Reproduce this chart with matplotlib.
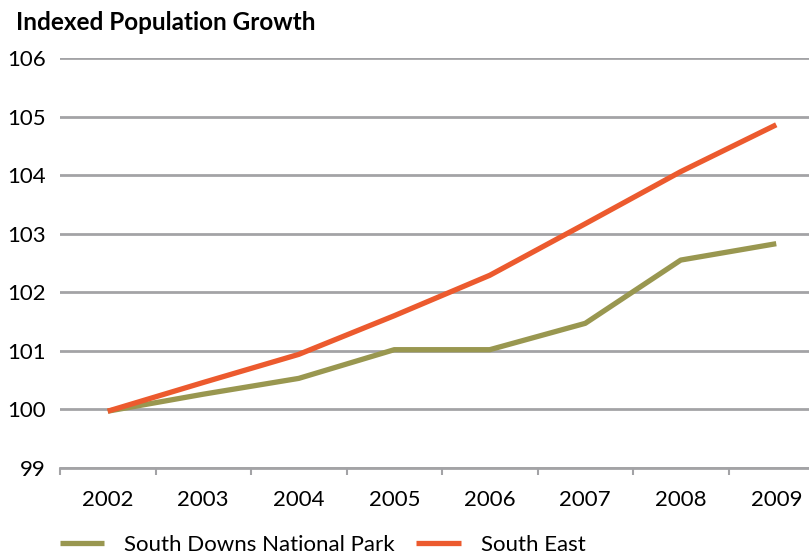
import matplotlib.pyplot as plt

# data
years = ["2002", "2003", "2004", "2005", "2006", "2007", "2008", "2009"]
south_downs = [99.97, 100.26, 100.53, 101.02, 101.02, 101.47, 102.55, 102.83]
south_east = [99.97, 100.46, 100.94, 101.6, 102.29, 103.17, 104.06, 104.86]
y_ticks = [99, 100, 101, 102, 103, 104, 105, 106]

OLIVE = "#999750"
ORANGE = "#ec5a2e"
GRID = "#a3a3a6"

plt.rcParams["font.family"] = ["Lato", "DejaVu Sans"]

W, H = 809, 555
fig = plt.figure(figsize=(W / 100, H / 100), dpi=100)
# plot area runs past the right edge of the image, like the reference
left, right = 60, 824
top, bottom = 58, 468
ax = fig.add_axes([left / W, 1 - bottom / H, (right - left) / W, (bottom - top) / H])

x = range(len(years))
ax.plot(x, south_downs, color=OLIVE, lw=3.8, solid_capstyle="butt", label="South Downs National Park", zorder=3)
ax.plot(x, south_east, color=ORANGE, lw=3.8, solid_capstyle="butt", label="South East", zorder=3)

ax.set_xlim(-0.5, len(years) - 0.5)
ax.set_ylim(99, 106)
ax.set_yticks(y_ticks)
ax.set_yticklabels([str(v) for v in y_ticks], fontsize=16)
ax.set_xticks(list(x))
ax.set_xticklabels(years, fontsize=16)
ax.tick_params(axis="x", length=0, pad=16)
ax.tick_params(axis="y", length=0, pad=10)

# category boundary ticks on the x axis
ax.set_xticks([i - 0.5 for i in range(len(years) + 1)], minor=True)
ax.tick_params(axis="x", which="minor", length=5, width=1.5, color=GRID, direction="out")

ax.grid(axis="y", color=GRID, lw=2)
ax.set_axisbelow(True)
for s in ["top", "right", "left"]:
    ax.spines[s].set_visible(False)
ax.spines["bottom"].set_color(GRID)
ax.spines["bottom"].set_linewidth(2)

fig.text(16 / W, 1 - 22 / H, "Indexed Population Growth", fontsize=17.5, fontweight="bold",
         va="center", ha="left")

leg = fig.legend(loc="center left", bbox_to_anchor=(60 / W, 1 - 545 / H), ncol=2, frameon=False,
                 fontsize=16, handlelength=2.0, handletextpad=0.9, columnspacing=0.95,
                 borderpad=0, borderaxespad=0)

fig.savefig("out.png", dpi=100)
